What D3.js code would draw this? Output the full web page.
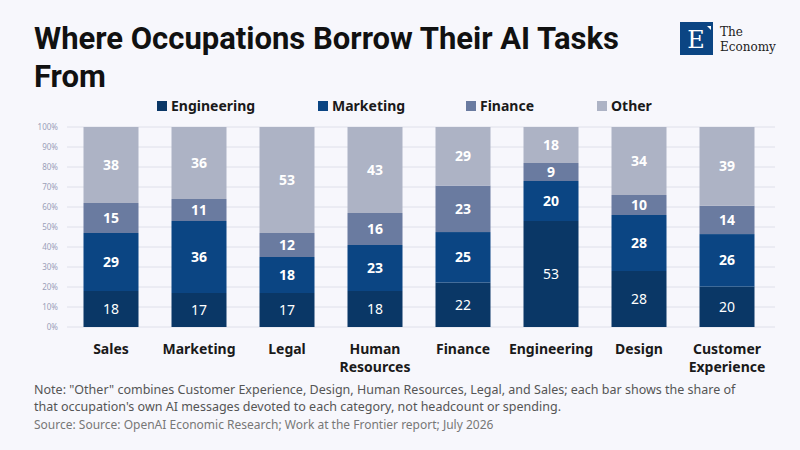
<!DOCTYPE html><html><head><meta charset="utf-8">
<script src="https://cdn.jsdelivr.net/npm/d3@7"></script>
<style>body{margin:0;background:#f7f7fc}svg{display:block}</style></head><body>
<svg id="c" width="800" height="450"></svg>
<script>
const categories=["Sales","Marketing","Legal","Human Resources","Finance","Engineering","Design","Customer Experience"];
const seriesNames=["Engineering","Marketing","Finance","Other"];
const engineering=[18,17,17,18,22,53,28,20];
const marketing=[29,36,18,23,25,20,28,26];
const finance=[15,11,12,16,23,9,10,14];
const other=[38,36,53,43,29,18,34,39];
const yTicks=[0,10,20,30,40,50,60,70,80,90,100];
const colors=["#0a3766","#0b4583","#6a7ba0","#adb3c5"];
const vals=[engineering,marketing,finance,other];
const rows=categories.map((c,i)=>{const o={cat:c};seriesNames.forEach((s,j)=>o[s]=vals[j][i]);return o;});
const svg=d3.select("#c");
svg.append("rect").attr("width",800).attr("height",450).attr("fill","#f7f7fc");
const F="'Noto Sans',sans-serif";
svg.append("text").attr("x",34).attr("y",49).attr("font-family","Roboto,sans-serif").attr("font-weight",700).attr("font-size",31).attr("fill","#111").text("Where Occupations Borrow Their AI Tasks");
svg.append("text").attr("x",34).attr("y",87).attr("font-family","Roboto,sans-serif").attr("font-weight",700).attr("font-size",31).attr("fill","#111").text("From");
const lg=svg.append("g");
lg.append("rect").attr("x",680).attr("y",22).attr("width",33).attr("height",33).attr("fill","#0b4583");
lg.append("text").attr("x",696).attr("y",48).attr("text-anchor","middle").attr("font-family","'DejaVu Serif',serif").attr("font-size",24).attr("fill","#fff").text("E");
lg.append("path").attr("d","M707,26 L711,26 L711,30 Z").attr("fill","#fff");
lg.append("text").attr("x",720).attr("y",36).attr("font-family","'DejaVu Serif',serif").attr("font-size",12).attr("fill","#222").text("The");
lg.append("text").attr("x",720).attr("y",51).attr("font-family","'DejaVu Serif',serif").attr("font-size",12).attr("fill","#222").text("Economy");
const x=d3.scaleBand().domain(categories).range([67,771]).paddingInner(0.375).paddingOuter(0.1875);
const y=d3.scaleLinear().domain([0,1]).range([327,127]);
svg.append("g").selectAll("line").data(yTicks).join("line").attr("x1",67).attr("x2",775).attr("y1",d=>y(d/100)).attr("y2",d=>y(d/100)).attr("stroke","#dfe0ea").attr("stroke-width",1);
svg.append("g").selectAll("text").data(yTicks).join("text").attr("x",58).attr("y",d=>y(d/100)+3).attr("text-anchor","end").attr("font-family",F).attr("font-size",8).attr("fill","#9aa0b8").text(d=>d+"%");
const stack=d3.stack().keys(seriesNames).offset(d3.stackOffsetExpand)(rows);
stack.forEach((s,j)=>{
 const g=svg.append("g");
 g.selectAll("rect").data(s).join("rect").attr("x",d=>x(d.data.cat)).attr("width",x.bandwidth()).attr("y",d=>y(d[1])).attr("height",d=>y(d[0])-y(d[1])).attr("fill",colors[j]);
 g.selectAll("text").data(s).join("text").attr("x",d=>x(d.data.cat)+x.bandwidth()/2).attr("y",d=>(y(d[0])+y(d[1]))/2+5).attr("text-anchor","middle").attr("font-family",F).attr("font-weight",j==0?400:700).attr("font-size",14).attr("fill","#fff").text(d=>d.data[seriesNames[j]]);
});
svg.append("g").selectAll("text").data(categories).join("text").attr("x",d=>x(d)+x.bandwidth()/2).attr("y",354).attr("text-anchor","middle").attr("font-family",F).attr("font-weight",700).attr("font-size",14).attr("fill","#1a1a1a")
 .each(function(d){const w=d.split(" ");const t=d3.select(this);w.forEach((s,i)=>t.append("tspan").attr("x",x(d)+x.bandwidth()/2).attr("dy",i?18:0).text(s));});
const legX=[157,318,466,597];
seriesNames.forEach((s,j)=>{svg.append("rect").attr("x",legX[j]).attr("y",101).attr("width",10).attr("height",10).attr("fill",colors[j]);
 svg.append("text").attr("x",legX[j]+14).attr("y",111).attr("font-family",F).attr("font-weight",700).attr("font-size",14).attr("fill","#1a1a1a").text(s);});
const note=["Note: \"Other\" combines Customer Experience, Design, Human Resources, Legal, and Sales; each bar shows the share of","that occupation's own AI messages devoted to each category, not headcount or spending."];
note.forEach((t,i)=>svg.append("text").attr("x",34).attr("y",394+i*17).attr("font-family",F).attr("font-size",12.5).attr("fill","#555").text(t));
svg.append("text").attr("x",34).attr("y",429).attr("font-family",F).attr("font-size",12).attr("fill","#777").text("Source: Source: OpenAI Economic Research; Work at the Frontier report; July 2026");
</script></body></html>
